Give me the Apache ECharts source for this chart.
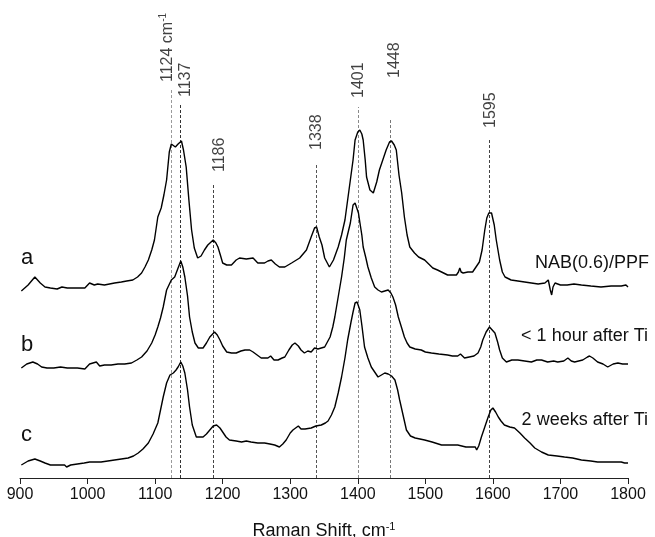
<!DOCTYPE html>
<html>
<head>
<meta charset="utf-8">
<title>Raman spectra</title>
<script src="https://cdn.jsdelivr.net/npm/echarts@6/dist/echarts.min.js"></script>
<style>
  html, body { margin: 0; padding: 0; background: #fff; }
  #chart { width: 655px; height: 537px; }
</style>
</head>
<body>
<div id="chart"></div>
<script>
// Raman shift axis (cm-1)
const xTicks = [900, 1000, 1100, 1200, 1300, 1400, 1500, 1600, 1700, 1800];

// Trace a: NAB(0.6)/PPF (intensity, arbitrary units incl. stacking offset)
const shiftA = [902, 912, 922, 930, 937, 945, 955, 962, 970, 985, 996, 1003, 1010, 1015, 1025, 1040, 1050, 1058, 1067, 1074,
  1080, 1085, 1090, 1095, 1099, 1104, 1109, 1113, 1117, 1121, 1124, 1130, 1134, 1139, 1142, 1146, 1150, 1154, 1158, 1163,
  1168, 1173, 1178, 1186, 1190, 1193, 1197, 1200, 1206, 1213, 1220, 1225, 1235, 1245, 1252, 1262, 1267, 1272, 1278, 1284,
  1292, 1302, 1314, 1324, 1331, 1336, 1339, 1343, 1347, 1351, 1358, 1364, 1371, 1376, 1381, 1385, 1389, 1393, 1396, 1400,
  1403, 1406, 1408, 1411, 1413, 1418, 1423, 1428, 1432, 1437, 1442, 1447, 1450, 1454, 1457, 1461, 1465, 1469, 1473, 1477,
  1484, 1490, 1499, 1505, 1511, 1518, 1524, 1533, 1540, 1546, 1549, 1551, 1553, 1556, 1563, 1570, 1576, 1580, 1584, 1588,
  1591, 1594, 1598, 1602, 1605, 1610, 1614, 1618, 1627, 1637, 1647, 1657, 1667, 1677, 1682, 1685, 1687, 1689, 1692, 1700,
  1710, 1720, 1731, 1745, 1760, 1775, 1790, 1797, 1800];
const intensityA = [187, 193, 201, 195, 191, 190, 189, 191, 190, 190, 190, 195, 193, 194, 193, 195, 196, 197, 198, 201,
  205, 211, 218, 228, 238, 261, 270, 283, 298, 326, 334, 331, 334, 337, 328, 311, 278, 248, 230, 220,
  222, 228, 233, 238, 235, 231, 222, 215, 213, 213, 218, 220, 219, 220, 215, 215, 217, 218, 214, 211,
  211, 215, 220, 228, 241, 250, 251, 241, 233, 220, 211, 218, 231, 243, 258, 278, 298, 318, 338, 346,
  348, 344, 338, 318, 301, 288, 285, 296, 308, 318, 328, 336, 337, 333, 328, 303, 285, 261, 243, 231,
  225, 221, 218, 214, 210, 208, 206, 203, 203, 203, 206, 210, 206, 205, 206, 206, 212, 216, 228, 248,
  260, 265, 265, 253, 238, 218, 206, 201, 198, 197, 196, 195, 194, 195, 198, 188, 183, 191, 195, 193,
  193, 194, 193, 192, 191, 192, 192, 193, 191];

// Trace b: < 1 hour after Ti
const shiftB = [902, 910, 919, 926, 932, 940, 950, 960, 970, 985, 996, 1003, 1008, 1013, 1018, 1025, 1035, 1045, 1055, 1065,
  1073, 1080, 1088, 1095, 1100, 1104, 1108, 1112, 1117, 1124, 1129, 1134, 1138, 1141, 1144, 1148, 1151, 1155, 1159, 1164,
  1171, 1176, 1181, 1188, 1192, 1196, 1200, 1206, 1213, 1220, 1227, 1233, 1240, 1245, 1251, 1257, 1262, 1267, 1271, 1276,
  1282, 1288, 1292, 1298, 1303, 1307, 1312, 1316, 1321, 1326, 1331, 1336, 1341, 1346, 1351, 1355, 1359, 1363, 1366, 1371,
  1376, 1380, 1383, 1389, 1393, 1396, 1398, 1401, 1403, 1406, 1408, 1412, 1415, 1420, 1425, 1430, 1435, 1440, 1445, 1449,
  1452, 1456, 1460, 1465, 1469, 1473, 1477, 1485, 1494, 1500, 1509, 1520, 1533, 1540, 1548, 1552, 1558, 1565, 1572, 1578,
  1582, 1585, 1590, 1595, 1599, 1603, 1607, 1610, 1614, 1620, 1628, 1637, 1647, 1657, 1665, 1672, 1681, 1690, 1696, 1705,
  1711, 1716, 1721, 1733, 1740, 1743, 1748, 1755, 1763, 1770, 1778, 1785, 1792, 1800];
const intensityB = [110, 114, 116, 114, 111, 110, 110, 111, 110, 110, 109, 114, 115, 116, 112, 113, 113, 114, 114, 115,
  118, 121, 127, 135, 143, 151, 160, 171, 188, 198, 201, 210, 217, 211, 201, 182, 161, 146, 135, 130,
  130, 135, 141, 146, 143, 138, 132, 126, 125, 125, 127, 128, 128, 126, 123, 120, 120, 120, 122, 118,
  118, 120, 121, 128, 133, 135, 132, 128, 125, 127, 126, 130, 129, 130, 131, 136, 141, 151, 161, 181,
  201, 220, 238, 255, 273, 275, 273, 265, 256, 243, 231, 220, 211, 200, 191, 188, 186, 187, 188, 185,
  181, 173, 161, 150, 141, 135, 131, 129, 128, 126, 125, 124, 123, 122, 122, 124, 120, 121, 122, 125,
  131, 138, 146, 151, 148, 145, 136, 128, 120, 116, 118, 118, 117, 116, 118, 118, 116, 117, 116, 117,
  120, 117, 116, 118, 121, 122, 120, 116, 114, 111, 114, 115, 114, 114];

// Trace c: 2 weeks after Ti
const shiftC = [902, 912, 922, 930, 937, 945, 955, 966, 969, 975, 985, 995, 1003, 1010, 1020, 1030, 1040, 1050, 1060, 1068,
  1075, 1082, 1090, 1097, 1104, 1108, 1112, 1117, 1122, 1127, 1131, 1134, 1138, 1141, 1144, 1148, 1151, 1155, 1161, 1171,
  1176, 1181, 1186, 1191, 1196, 1200, 1205, 1210, 1220, 1228, 1235, 1242, 1252, 1262, 1270, 1277, 1284, 1289, 1294, 1300,
  1304, 1308, 1312, 1316, 1322, 1331, 1338, 1346, 1352, 1356, 1361, 1366, 1371, 1376, 1381, 1385, 1390, 1393, 1396, 1399,
  1403, 1406, 1410, 1415, 1420, 1425, 1430, 1435, 1440, 1445, 1450, 1455, 1459, 1462, 1467, 1472, 1478, 1485, 1492, 1499,
  1510, 1524, 1535, 1548, 1560, 1570, 1574, 1576, 1579, 1583, 1588, 1593, 1597, 1600, 1604, 1608, 1612, 1617, 1625, 1632,
  1640, 1647, 1655, 1662, 1672, 1682, 1695, 1706, 1718, 1731, 1745, 1755, 1770, 1790, 1795, 1800];
const intensityC = [13, 17, 19, 17, 15, 13, 13, 13, 11, 13, 14, 15, 16, 16, 16, 17, 18, 19, 20, 22,
  25, 29, 35, 44, 55, 68, 81, 95, 103, 105, 108, 111, 116, 112, 105, 88, 71, 53, 41, 41,
  44, 48, 52, 53, 50, 46, 41, 38, 37, 36, 37, 36, 35, 35, 34, 33, 31, 34, 38, 45,
  48, 50, 52, 49, 49, 50, 52, 53, 55, 57, 63, 71, 85, 101, 120, 138, 156, 166, 175, 176,
  168, 153, 131, 120, 111, 106, 101, 103, 105, 104, 102, 98, 88, 78, 63, 48, 42, 40, 39, 38,
  36, 33, 33, 33, 31, 31, 31, 28, 32, 41, 51, 61, 68, 70, 66, 61, 57, 53, 51, 50,
  45, 40, 35, 30, 26, 23, 22, 21, 20, 18, 17, 16, 16, 16, 15, 15];

// Assigned band positions (cm-1) and their captions
const peakShifts = [1124, 1137, 1186, 1338, 1401, 1448, 1595];
const peakLabels = ['{n|1124 cm}{s|-1}', '1137', '1186', '1338', '1401', '1448', '1595'];

// Trace captions
const traceLetters = ['a', 'b', 'c'];
const traceNames = ['NAB(0.6)/PPF', '< 1 hour after Ti', '2 weeks after Ti'];

// ---- layout of the band markers: dashed-line height, caption start, caption side shift (px) ----
const markerTop = [388, 375, 295, 315, 371, 358, 339];
const markerLabelBase = [396, 381, 306, 328, 380, 400, 350];
const markerLabelShift = [-4, 5, 6, 0.5, 0.5, 4.5, 1.5];
const markerColor = ['#9a9a9a', '#333333', '#444444', '#555555', '#8a8a8a', '#777777', '#444444'];

const zip = (xs, ys) => xs.map((x, i) => [x, ys[i]]);

const FONT = '"Liberation Sans", Arial, Helvetica, sans-serif';

const traceStyle = { color: '#000', width: 1.4 };

function traceSeries(name, xs, ys) {
  return {
    name: name,
    type: 'line',
    data: zip(xs, ys),
    showSymbol: false,
    symbol: 'none',
    lineStyle: traceStyle,
    itemStyle: { color: '#000' },
    silent: true,
    z: 3
  };
}

const markLineData = peakShifts.map((x, i) => [
  { coord: [x, 0], lineStyle: { color: markerColor[i], type: [3, 2], width: 1 } },
  { coord: [x, markerTop[i]] }
]);

const chart = echarts.init(document.getElementById('chart'), null, { renderer: 'canvas' });

const option = {
  animation: false,
  backgroundColor: '#fff',
  textStyle: { fontFamily: FONT, color: '#111' },
  grid: { left: 20, right: 27, top: 8, bottom: 59, containLabel: false, outerBoundsMode: 'none' },
  xAxis: {
    type: 'value',
    min: 900,
    max: 1800,
    interval: 100,
    axisLine: { show: true, lineStyle: { color: '#222', width: 1 } },
    axisTick: { show: true, length: 6, lineStyle: { color: '#222' } },
    splitLine: { show: false },
    axisLabel: {
      fontSize: 16, color: '#111', margin: 9, fontFamily: FONT,
      formatter: v => (xTicks.indexOf(v) >= 0 ? String(v) : '')
    },
    name: '{t|Raman Shift, cm}{s|-1}',
    nameLocation: 'middle',
    nameGap: 43,
    nameTextStyle: {
      fontFamily: FONT,
      rich: {
        t: { fontSize: 18, color: '#111', lineHeight: 20, fontFamily: FONT },
        s: { fontSize: 11, color: '#111', lineHeight: 11, verticalAlign: 'top', fontFamily: FONT }
      }
    }
  },
  yAxis: {
    type: 'value',
    min: 0,
    max: 470,
    show: false
  },
  series: [
    Object.assign(traceSeries(traceNames[0], shiftA, intensityA), {
      markLine: {
        silent: true,
        symbol: 'none',
        label: { show: false },
        emphasis: { disabled: true },
        data: markLineData,
        z: 1
      }
    }),
    traceSeries(traceNames[1], shiftB, intensityB),
    traceSeries(traceNames[2], shiftC, intensityC),
    {
      // captions for the band markers, written upward above each dashed line
      type: 'scatter',
      silent: true,
      symbolSize: 1,
      itemStyle: { color: 'rgba(0,0,0,0)' },
      data: peakShifts.map((x, i) => ({
        value: [x, markerLabelBase[i]],
        name: peakLabels[i],
        label: { offset: [0, markerLabelShift[i]] }
      })),
      label: {
        show: true,
        position: 'inside',
        rotate: 90,
        align: 'left',
        verticalAlign: 'middle',
        fontSize: 16,
        color: '#111',
        fontFamily: FONT,
        formatter: p => p.name,
        rich: {
          n: { fontSize: 16, color: '#111', lineHeight: 18, fontFamily: FONT },
          s: { fontSize: 10, color: '#111', lineHeight: 10, verticalAlign: 'top', fontFamily: FONT }
        }
      },
      z: 5
    }
  ],
  graphic: [
    { type: 'text', left: 21, top: 247, style: { text: traceLetters[0], font: '22px ' + FONT, fill: '#111' } },
    { type: 'text', left: 21, top: 334, style: { text: traceLetters[1], font: '22px ' + FONT, fill: '#111' } },
    { type: 'text', left: 21, top: 424, style: { text: traceLetters[2], font: '22px ' + FONT, fill: '#111' } },
    { type: 'text', right: 6, top: 254, style: { text: traceNames[0], font: '18px ' + FONT, fill: '#111' } },
    { type: 'text', right: 7, top: 327, style: { text: traceNames[1], font: '18px ' + FONT, fill: '#111' } },
    { type: 'text', right: 7, top: 411, style: { text: traceNames[2], font: '18px ' + FONT, fill: '#111' } }
  ]
};

chart.setOption(option);
</script>
</body>
</html>
